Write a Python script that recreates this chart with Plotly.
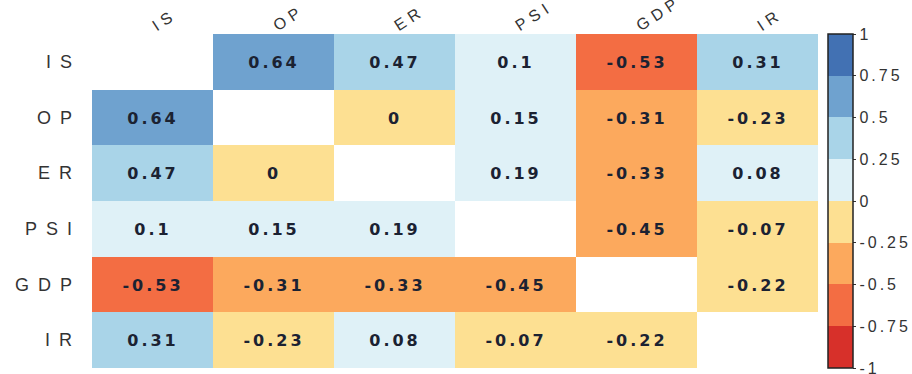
import plotly.graph_objects as go

# Variables of the correlation matrix
variables = ["IS", "OP", "ER", "PSI", "GDP", "IR"]

# Pairwise correlations, one list per row (diagonal left blank)
row_is = [None, 0.64, 0.47, 0.10, -0.53, 0.31]
row_op = [0.64, None, 0.00, 0.15, -0.31, -0.23]
row_er = [0.47, 0.00, None, 0.19, -0.33, 0.08]
row_psi = [0.10, 0.15, 0.19, None, -0.45, -0.07]
row_gdp = [-0.53, -0.31, -0.33, -0.45, None, -0.22]
row_ir = [0.31, -0.23, 0.08, -0.07, -0.22, None]

# Colour bar ticks
bar_ticks = [1, 0.75, 0.5, 0.25, 0, -0.25, -0.5, -0.75, -1]
bar_labels = ["1", "0.75", "0.5", "0.25", "0", "-0.25", "-0.5", "-0.75", "-1"]

matrix = [row_is, row_op, row_er, row_psi, row_gdp, row_ir]

# Eight-step diverging palette, low to high
bins = ["#d7302a", "#f36d43", "#fca95d", "#fde092",
        "#dff1f7", "#a9d4e8", "#6fa2cf", "#4271b3"]
eps = 1e-6
colorscale = []
for i, c in enumerate(bins):
    lo = i / 8 + (eps if i > 0 else 0)
    hi = (i + 1) / 8 + (eps if i < 7 else 0)
    colorscale.append([lo, c])
    colorscale.append([min(hi, 1.0), c])


def fmt(v):
    if v is None:
        return ""
    s = ("%.2f" % v).rstrip("0").rstrip(".")
    if s in ("-0", ""):
        s = "0"
    return s


def spaced(s, px):
    return '<span style="letter-spacing:%dpx">%s</span>' % (px, s)


text = [[spaced(fmt(v), 3) if v is not None else "" for v in row] for row in matrix]

plot_left, plot_right = 92, 818

fig = go.Figure(
    go.Heatmap(
        z=matrix,
        x=variables,
        y=variables,
        text=text,
        texttemplate="%{text}",
        textfont=dict(family="DejaVu Sans", size=16, color="#1b2232", weight="bold"),
        colorscale=colorscale,
        zmin=-1,
        zmax=1,
        xgap=0,
        ygap=0,
        hoverongaps=False,
        colorbar=dict(
            x=(828 - plot_left) / (plot_right - plot_left),
            xanchor="left",
            xpad=0,
            y=0.5,
            yanchor="middle",
            ypad=0,
            len=1,
            lenmode="fraction",
            thickness=25,
            thicknessmode="pixels",
            outlinecolor="#222222",
            outlinewidth=1.5,
            tickvals=bar_ticks,
            ticktext=[spaced(t, 3) for t in bar_labels],
            ticks="outside",
            ticklen=3,
            tickcolor="#333333",
            ticklabeloverflow="allow",
            tickfont=dict(family="Liberation Sans", size=16, color="#333333"),
        ),
    )
)

fig.update_xaxes(
    side="top",
    tickangle=-33,
    showgrid=False,
    zeroline=False,
    showline=False,
    ticks="",
    automargin=False,
    ticklabelstandoff=-3,
    tickfont=dict(family="Liberation Sans", size=16, color="#333333"),
    tickvals=variables,
    ticktext=[spaced(v, 5) for v in variables],
)
fig.update_yaxes(
    autorange="reversed",
    showgrid=False,
    zeroline=False,
    showline=False,
    ticks="",
    automargin=False,
    ticklabelstandoff=10,
    tickfont=dict(family="Liberation Sans", size=18, color="#333333"),
    tickvals=variables,
    ticktext=[spaced(v, 9) for v in variables],
)

fig.update_layout(
    width=912,
    height=374,
    margin=dict(l=plot_left, r=912 - plot_right, t=34, b=6, autoexpand=False),
    paper_bgcolor="white",
    plot_bgcolor="white",
)

fig.write_html("out.html")
